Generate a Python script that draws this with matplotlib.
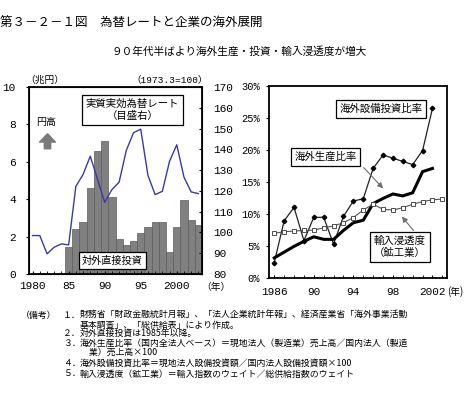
import matplotlib
matplotlib.use("Agg")
import matplotlib.pyplot as plt

plt.rcParams["font.family"] = ["Noto Sans CJK JP", "DejaVu Sans"]

W, H = 476, 393
NUM_FONT = ["Liberation Mono", "Noto Sans CJK JP"]

# left panel: FDI (trillion yen, bars) and real effective exchange rate (right axis)
years_left = list(range(1980, 2004))
fdi_years = list(range(1985, 2004))
fdi_trillion_yen = [1.43, 2.40, 2.76, 4.62, 6.58, 7.10, 4.12, 1.88, 1.56, 1.79,
                    2.19, 2.54, 2.78, 2.76, 1.18, 2.51, 3.94, 2.90, 2.63]
reer_index = [98.5, 98.5, 89.7, 92.9, 94.5, 94.0, 122.2, 127.9, 136.7, 125.7,
              114.5, 120.6, 124.2, 139.5, 148.0, 149.7, 127.5, 118.2, 119.8, 134.3,
              142.2, 126.6, 119.5, 118.7]
left_xticks = [1980, 1985, 1990, 1995, 2000]
left_xlabels = ["1980", "85", "90", "95", "2000"]

# right panel: ratios (%)
years_right = list(range(1986, 2003))
capex_ratio = [2.35, 8.9, 11.0, 5.8, 9.45, 9.45, 5.27, 9.6, 12.0, 12.35,
               17.1, 19.2, 18.7, 18.2, 17.7, 19.9, 26.5]
production_ratio = [3.1, 4.0, 4.9, 5.7, 6.4, 6.0, 6.0, 7.4, 8.6, 9.0,
                    11.6, 12.4, 13.1, 12.8, 13.3, 16.6, 17.1]
import_years = list(range(1986, 2004))
import_penetration = [6.95, 7.2, 7.3, 7.4, 7.45, 7.8, 8.1, 8.6, 9.4, 10.6,
                      11.5, 10.7, 10.6, 10.95, 11.5, 11.9, 12.2, 12.3]
right_xticks = [1986, 1990, 1994, 1998, 2002]
right_xlabels = ["1986", "90", "94", "98", "2002"]

# (number, text, baseline y in px)
notes = [
    ("１．", "財務省「財政金融統計月報」、「法人企業統計年報」、経済産業省「海外事業活動", 318),
    ("", "基本調査」、「総供給表」により作成。", 327.5),
    ("２．", "対外直接投資は1985年以降。", 336.5),
    ("３．", "海外生産比率（国内全法人ベース）＝現地法人（製造業）売上高／国内法人（製造", 346),
    ("", "　業）売上高×100", 355),
    ("４．", "海外設備投資比率＝現地法人設備投資額／国内法人設備投資額×100", 366),
    ("５．", "輸入浸透度（鉱工業）＝輸入指数のウェイト／総供給指数のウェイト", 376.5),
]


def px(x, y):
    return x / W, 1 - y / H


def box(ax, x, y, text, size=7.5):
    ax.text(x, y, text, transform=ax.transAxes, ha="center", va="center", fontsize=size,
            linespacing=1.3,
            bbox=dict(boxstyle="square,pad=0.35", fc="white", ec="black", lw=0.9))


def draw_left(fig):
    ax = fig.add_axes([29 / W, 1 - 274 / H, 173 / W, 187 / H])
    ax.bar(fdi_years, fdi_trillion_yen, width=1.0, color="#808080",
           edgecolor="#5c5c5c", linewidth=0.5)
    ax.set_xlim(1979.5, 2003.5)
    ax.set_ylim(0, 10)
    ax.set_yticks(range(0, 11, 2))
    ax.set_xticks(left_xticks, left_xlabels)
    ax.set_xticks(years_left, minor=True)
    ax.tick_params(axis="x", which="both", direction="in", length=2.5, pad=5, labelsize=8)
    ax.tick_params(axis="y", direction="out", length=2.5, pad=7, labelsize=8)
    for lab in ax.get_xticklabels() + ax.get_yticklabels():
        lab.set_family(NUM_FONT)
    for s in ax.spines.values():
        s.set_linewidth(1.3)

    ax2 = ax.twinx()
    ax2.plot(years_left, reer_index, color="#3a3aa6", lw=1.0)
    ax2.set_ylim(80, 170)
    ax2.set_yticks(range(80, 171, 10))
    ax2.tick_params(axis="y", direction="in", length=2.5, pad=8, labelsize=8)
    for lab in ax2.get_yticklabels():
        lab.set_family(NUM_FONT)

    box(ax, 0.598, 0.878, "実質実効為替レート\n（目盛右）")
    box(ax, 0.483, 0.072, "対外直接投資", size=7.3)
    ax.text(0.098, 0.815, "円高", transform=ax.transAxes, ha="center", va="center", fontsize=7.2)
    ax.annotate("", xy=(0.107, 0.765), xytext=(0.107, 0.655),
                xycoords="axes fraction", textcoords="axes fraction",
                arrowprops=dict(arrowstyle="simple,head_length=0.5,head_width=0.95,tail_width=0.38",
                                color="#7a7a7a", mutation_scale=12))

    fig.text(*px(45, 80), "（兆円）", ha="center", va="center", fontsize=7)
    fig.text(*px(170, 80), "（1973.3=100）", ha="center", va="center", fontsize=6.8, family=NUM_FONT)
    fig.text(*px(216, 287), "（年）", ha="center", va="center", fontsize=7)


def draw_right(fig):
    ax = fig.add_axes([269.3 / W, 1 - 277.7 / H, 178 / W, 191.7 / H])
    ax.plot(years_right, capex_ratio, color="#222222", lw=0.9, marker="D", ms=2.3,
            mfc="black", mec="black")
    ax.plot(years_right, production_ratio, color="black", lw=2.2, solid_joinstyle="miter")
    ax.plot(import_years, import_penetration, color="#555555", lw=0.8, marker="s", ms=2.6,
            mfc="white", mec="#333333", mew=0.6)
    ax.set_xlim(1985.5, 2003.5)
    ax.set_ylim(0, 30)
    ax.set_yticks(range(0, 31, 5), [f"{v}%" for v in range(0, 31, 5)])
    ax.set_xticks(right_xticks, right_xlabels)
    ax.set_xticks(import_years, minor=True)
    ax.tick_params(axis="x", which="both", direction="in", length=2.5, pad=7, labelsize=8)
    ax.tick_params(axis="y", direction="out", length=2.5, pad=4, labelsize=7.5)
    for lab in ax.get_xticklabels() + ax.get_yticklabels():
        lab.set_family(NUM_FONT)
    for s in ax.spines.values():
        s.set_linewidth(1.3)

    box(ax, 0.628, 0.88, "海外設備投資比率")
    box(ax, 0.316, 0.63, "海外生産比率")
    box(ax, 0.734, 0.162, "輸入浸透度\n（鉱工業）")
    arrow = dict(arrowstyle="-|>", color="#6e6e6e", lw=0.8, mutation_scale=8)
    ax.annotate("", xy=(0.65, 0.455), xytext=(0.52, 0.585),
                xycoords="axes fraction", textcoords="axes fraction", arrowprops=arrow)
    ax.annotate("", xy=(0.735, 0.33), xytext=(0.82, 0.235),
                xycoords="axes fraction", textcoords="axes fraction", arrowprops=arrow)

    fig.text(*px(455, 291.5), "(年)", ha="center", va="center", fontsize=7)


def main():
    fig = plt.figure(figsize=(W / 100, H / 100), dpi=100)
    fig.text(*px(0, 23), "第３－２－１図　為替レートと企業の海外展開", ha="left", va="center", fontsize=9)
    fig.text(*px(239, 51.5), "９０年代半ばより海外生産・投資・輸入浸透度が増大",
             ha="center", va="center", fontsize=7.7)

    draw_left(fig)
    draw_right(fig)

    fs = 6.4
    fig.text(*px(21, 318), "（備考）", ha="left", va="baseline", fontsize=fs)
    for num, body, y in notes:
        if num:
            fig.text(*px(63, y), num, ha="left", va="baseline", fontsize=fs)
        fig.text(*px(80, y), body, ha="left", va="baseline", fontsize=fs)

    fig.savefig("out.png", dpi=100)
    plt.close(fig)


if __name__ == "__main__":
    main()
